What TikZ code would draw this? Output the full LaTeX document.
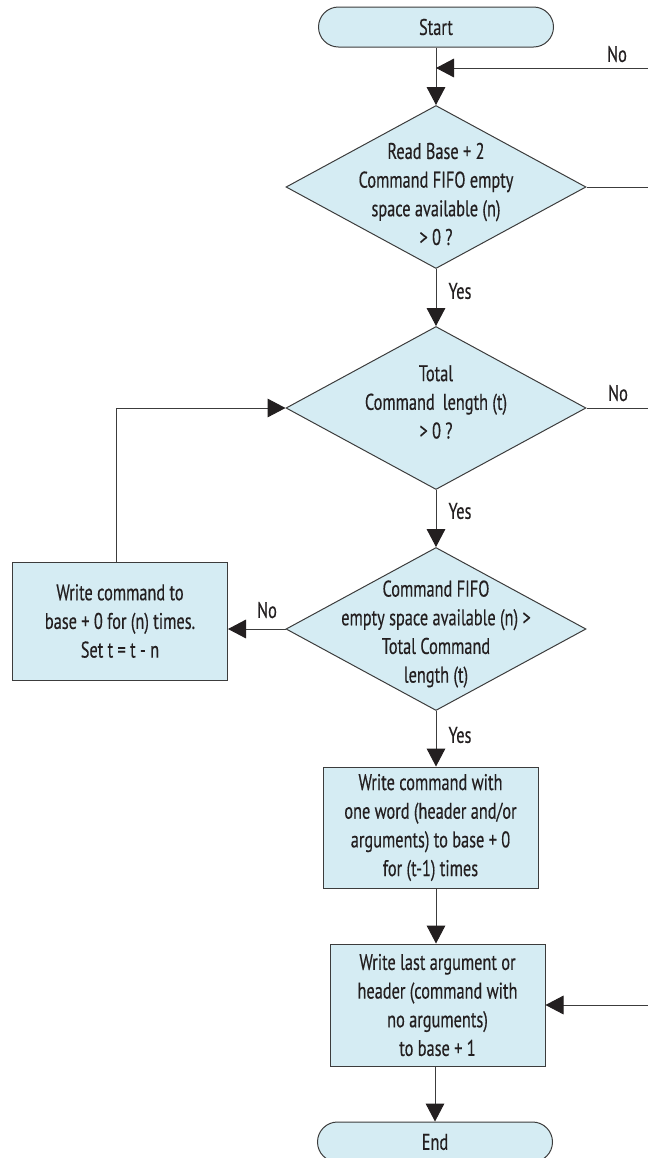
\documentclass[tikz,border=0pt]{standalone}
\usepackage{fontspec}
\setmainfont[FakeStretch=0.72,FakeBold=0.35]{PT Sans}
\usetikzlibrary{arrows.meta,shapes.geometric}
\definecolor{boxfill}{HTML}{D5ECF3}
\definecolor{edge}{HTML}{3C3C3C}
\definecolor{ink}{HTML}{231F20}
\begin{document}
\begin{tikzpicture}[x=0.75pt,y=-0.75pt,
  every node/.style={text=ink},
  txt/.style={font=\fontsize{17}{21.5}\selectfont, align=center, inner sep=0pt},
  term/.style={draw=edge, fill=boxfill, line width=0.75pt, rounded corners=15pt,
    minimum width=235*0.75pt, minimum height=40*0.75pt, inner sep=0pt, txt},
  dec/.style={draw=edge, fill=boxfill, line width=0.75pt, diamond, inner sep=0pt,
    minimum width=300*0.75pt, minimum height=163*0.75pt},
  proc/.style={draw=edge, fill=boxfill, line width=0.75pt, rectangle, inner sep=0pt,
    minimum width=215*0.75pt, txt},
  line/.style={draw=edge, line width=0.75pt},
  arr/.style={line, -{Triangle[length=13.5pt,width=14pt,color=ink]}},
  lab/.style={txt}]
\useasboundingbox (0,0) rectangle (648,1158);

% nodes
\node[term] (start) at (436,27) {Start};
\node[dec] (d1) at (436,187) {};
\node[txt] (t1) at (436,194) {Read Base + 2\\Command FIFO empty\\space available (n)\\> 0 ?};
\node[dec] (d2) at (436,408) {};
\node[txt] (t2) at (436,402) {Total\\Command\, length (t)\\> 0 ?};
\node[dec] (d3) at (436,629) {};
\node[txt] (t3) at (436,634) {Command FIFO\\empty space available (n) >\\Total Command\\length (t)};
\node[proc, minimum height=118*0.75pt] (b1) at (120,621) {Write command to\\base + 0 for (n) times.\\Set t = t - n};
\node[proc, minimum height=121*0.75pt] (b2) at (430.5,827.5) {Write command with\\one word (header and/or\\arguments) to base + 0\\for (t-1) times};
\node[proc, minimum height=122*0.75pt] (b3) at (437.5,1005) {Write last argument or\\header (command with\\no arguments)\\to base + 1};
\node[term] (end) at (435,1142) {End};

% free ends and junction
\coordinate (j1) at (436,68);
\coordinate (r1) at (648,68);
\coordinate (r2) at (648,187);
\coordinate (r3) at (648,408);
\coordinate (r4) at (648,1005);

% connectors
\draw[line] (start.south) -- (j1);
\draw[arr] (j1) -- (d1.north);
\draw[arr] (r1) -- (j1);
\draw[line] (d1.east) -- (r2);
\draw[arr] (d1.south) -- (d2.north);
\draw[line] (d2.east) -- (r3);
\draw[arr] (d2.south) -- (d3.north);
\draw[arr] (d3.west) -- (d3.west -| b1.east);
\draw[arr] ([xshift=-2.5pt]b1.north) |- (d2.west);
\draw[arr] (d3.south) -- (d3.south |- b2.north);
\draw[arr] (d1.south |- b2.south) -- (d1.south |- b3.north);
\draw[arr] (r4) -- (b3.east);
\draw[arr] (end.north |- b3.south) -- (end.north);

% labels
\node[lab] (n1) at (617,54) {No};
\node[lab] (y1) at (460,291) {Yes};
\node[lab] (n2) at (618,393) {No};
\node[lab] (y2) at (460,511) {Yes};
\node[lab] (n3) at (267,610) {No};
\node[lab] (y3) at (460,735) {Yes};
\end{tikzpicture}
\end{document}
